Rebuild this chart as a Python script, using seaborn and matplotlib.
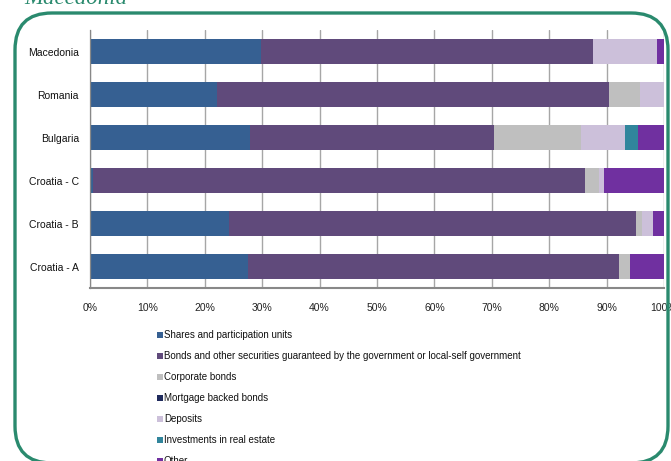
import matplotlib
matplotlib.use("Agg")
import matplotlib.pyplot as plt
from matplotlib.patches import FancyBboxPatch, Rectangle
import seaborn as sns
import pandas as pd
import numpy as np

countries = ["Macedonia", "Romania", "Bulgaria", "Croatia - C", "Croatia - B", "Croatia - A"]
series_names = [
    "Shares and participation units",
    "Bonds and other securities guaranteed by the government or local-self government",
    "Corporate bonds",
    "Mortgage backed bonds",
    "Deposits",
    "Investments in real estate",
    "Other",
]
shares = [29.8, 22.1, 27.9, 0.5, 24.2, 27.6]
bonds_gov = [57.9, 68.3, 42.5, 85.7, 71.0, 64.6]
corporate = [0.0, 5.4, 15.2, 2.5, 1.0, 1.9]
mortgage = [0.0, 0.0, 0.0, 0.0, 0.0, 0.0]
deposits = [11.0, 4.2, 7.6, 0.8, 1.9, 0.0]
real_estate = [0.0, 0.0, 2.3, 0.0, 0.0, 0.0]
other = [1.3, 0.0, 4.5, 10.5, 1.9, 5.9]
x_ticks = [0, 10, 20, 30, 40, 50, 60, 70, 80, 90, 100]
title = "Macedonia"

colors = ["#366092", "#604A7B", "#BFBFBF", "#1F2A5C", "#CCC0DA", "#31859C", "#7030A0"]

sns.set_theme(style="white")
narrow = ["Liberation Sans Narrow", "Liberation Sans", "DejaVu Sans"]
plt.rcParams["font.family"] = narrow

W, H = 671, 461
fig = plt.figure(figsize=(W / 100, H / 100), dpi=100)

def fx(px):
    return px / W

def fy(py):
    return 1 - py / H

ax_left, ax_right, ax_top, ax_bottom = 90, 664, 30, 288
ax = fig.add_axes([fx(ax_left), fy(ax_bottom), fx(ax_right - ax_left), (ax_bottom - ax_top) / H])

data = [shares, bonds_gov, corporate, mortgage, deposits, real_estate, other]
vals = np.array(data)
cum = np.cumsum(vals, axis=0)
for i in range(len(series_names) - 1, -1, -1):
    d = pd.DataFrame({"country": countries, "value": cum[i]})
    sns.barplot(data=d, y="country", x="value", color=colors[i], width=0.575,
                orient="h", ax=ax, saturation=1, edgecolor="none", linewidth=0,
                order=countries)

ax.set_xlim(0, 100)
ax.set_ylim(len(countries) - 0.5, -0.5)
ax.set_xticks(x_ticks)
ax.set_xticklabels([f"{t}%" for t in x_ticks], fontsize=7.5, color="#222222")
ax.set_xlabel("")
ax.set_ylabel("")
ax.set_yticks(range(len(countries)))
ax.set_yticklabels(countries, fontsize=7.5, color="#111111")
ax.tick_params(axis="y", length=0, pad=8)
ax.tick_params(axis="x", length=0, pad=11)
ax.set_yticks(np.arange(-0.5, len(countries), 1), minor=True)
ax.tick_params(axis="y", which="minor", length=3, color="#888888", width=0.8, direction="out")
ax.xaxis.grid(True, color="#A6A6A6", linewidth=1.0)
ax.set_axisbelow(True)
for s in ["top", "right"]:
    ax.spines[s].set_visible(False)
ax.spines["left"].set_color("#888888")
ax.spines["bottom"].set_color("#888888")
ax.spines["left"].set_linewidth(0.9)
ax.spines["bottom"].set_linewidth(1.5)
ax.set_facecolor("none")

# legend (vertical list below chart)
leg_y0 = 335
leg_dy = 21
for i, name in enumerate(series_names):
    y = leg_y0 + i * leg_dy
    fig.patches.append(Rectangle((fx(157), fy(y + 3)), fx(6), 6 / H, transform=fig.transFigure,
                                 facecolor=colors[i], edgecolor="none"))
    fig.text(fx(164), fy(y), name, fontsize=7.0, va="center", ha="left", color="#111111")

# rounded green frame
frame = FancyBboxPatch((fx(15), fy(463)), fx(668 - 15), (463 - 13) / H,
                       boxstyle="round,pad=0,rounding_size=0.055",
                       transform=fig.transFigure, facecolor="none",
                       edgecolor="#2A8A6E", linewidth=2.4, mutation_aspect=W / H)
fig.patches.append(frame)

fig.text(fx(24), fy(4), title, fontsize=16.5, style="italic", family=["Liberation Serif", "DejaVu Serif"],
         color="#2A8A6E", ha="left", va="baseline")

fig.savefig("out.png", dpi=100)
